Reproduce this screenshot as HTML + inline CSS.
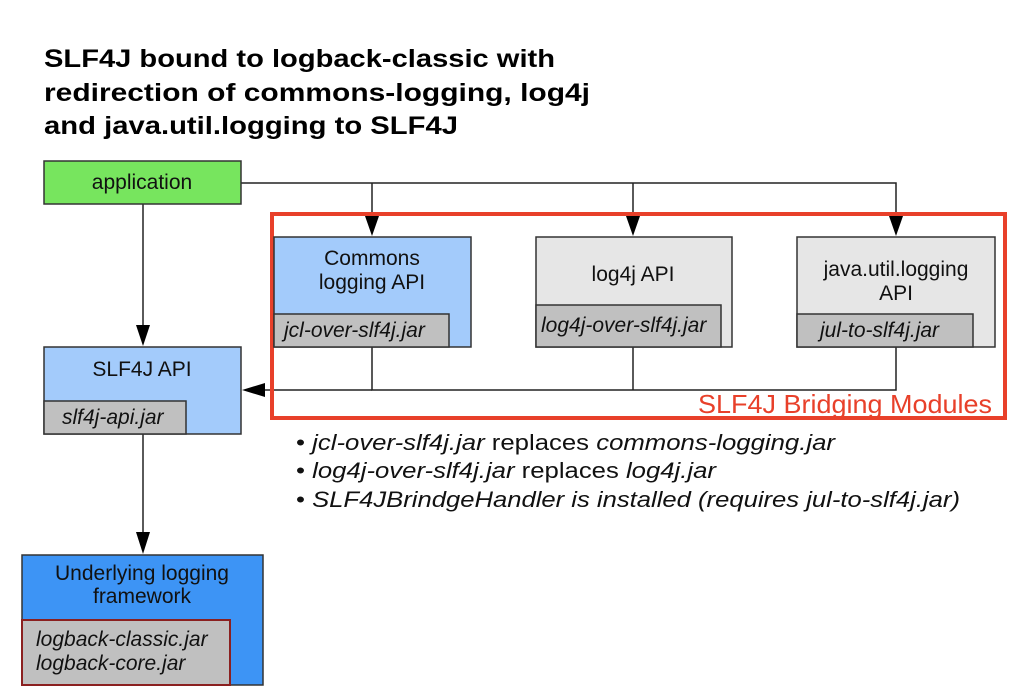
<!DOCTYPE html>
<html><head><meta charset="utf-8"><style>
html,body{margin:0;padding:0;background:#fff;}
svg{display:block;}
text{font-family:"Liberation Sans",Arial,sans-serif;}
</style></head><body>
<svg width="1017" height="696" viewBox="0 0 1017 696" xmlns="http://www.w3.org/2000/svg">
<g font-weight="bold" font-size="25" fill="#000">
<text x="44" y="67" textLength="511" lengthAdjust="spacingAndGlyphs">SLF4J bound to logback-classic with</text>
<text x="44" y="101" textLength="546" lengthAdjust="spacingAndGlyphs">redirection of commons-logging, log4j</text>
<text x="44" y="134" textLength="414" lengthAdjust="spacingAndGlyphs">and java.util.logging to SLF4J</text>
</g>
<g stroke="#222" stroke-width="1.5" fill="none">
<polyline points="241,183 896,183 896,215"/>
<line x1="372" y1="183" x2="372" y2="215"/>
<line x1="633" y1="183" x2="633" y2="215"/>
<line x1="143" y1="204" x2="143" y2="326"/>
<polyline points="372,347 372,390 896,390 896,347"/>
<line x1="633" y1="347" x2="633" y2="390"/>
<line x1="372" y1="390" x2="264" y2="390"/>
<line x1="143" y1="434" x2="143" y2="532"/>
</g>
<g fill="#000">
<polygon points="365,216 379,216 372,236"/>
<polygon points="626,216 640,216 633,236"/>
<polygon points="889,216 903,216 896,236"/>
<polygon points="136,325 150,325 143,346"/>
<polygon points="136,532 150,532 143,554"/>
<polygon points="265,383 265,397 242,390"/>
</g>
<rect x="272" y="214" width="733" height="204" fill="none" stroke="#e8402a" stroke-width="4"/>
<g stroke="#333" stroke-width="1.5">
<rect x="44" y="161" width="197" height="43" fill="#77e55e"/>
<rect x="274" y="237" width="197" height="110" fill="#a3cbfb"/>
<rect x="274" y="314" width="175" height="33" fill="#c0c0c0"/>
<rect x="536" y="237" width="196" height="110" fill="#e6e6e6"/>
<rect x="536" y="305" width="185" height="42" fill="#c0c0c0"/>
<rect x="797" y="237" width="198" height="110" fill="#e6e6e6"/>
<rect x="797" y="314" width="176" height="33" fill="#c0c0c0"/>
<rect x="44" y="347" width="197" height="87" fill="#a3cbfb"/>
<rect x="44" y="401" width="142" height="33" fill="#c0c0c0"/>
<rect x="22" y="555" width="241" height="130" fill="#3d94f5"/>
</g>
<rect x="22" y="620" width="208" height="65" fill="#c0c0c0" stroke="#8b2020" stroke-width="2"/>
<g font-size="21" fill="#111" text-anchor="middle">
<text x="142" y="189">application</text>
<text x="372" y="265">Commons</text>
<text x="372" y="289">logging API</text>
<text x="633" y="281">log4j API</text>
<text x="896" y="276">java.util.logging</text>
<text x="896" y="300">API</text>
<text x="142" y="376">SLF4J API</text>
<text x="142" y="580">Underlying logging</text>
<text x="142" y="603">framework</text>
</g>
<g font-size="21" fill="#111" font-style="italic">
<text x="284" y="337">jcl-over-slf4j.jar</text>
<text x="541" y="332">log4j-over-slf4j.jar</text>
<text x="820" y="337">jul-to-slf4j.jar</text>
<text x="62" y="424">slf4j-api.jar</text>
<text x="36" y="646">logback-classic.jar</text>
<text x="36" y="670">logback-core.jar</text>
</g>
<text x="992" y="413" text-anchor="end" font-size="26" fill="#e8402a" textLength="294" lengthAdjust="spacingAndGlyphs">SLF4J Bridging Modules</text>
<g font-size="22" fill="#111">
<text x="296" y="450" textLength="539" lengthAdjust="spacingAndGlyphs">• <tspan font-style="italic">jcl-over-slf4j.jar</tspan> replaces <tspan font-style="italic">commons-logging.jar</tspan></text>
<text x="296" y="478" textLength="420" lengthAdjust="spacingAndGlyphs">• <tspan font-style="italic">log4j-over-slf4j.jar</tspan> replaces <tspan font-style="italic">log4j.jar</tspan></text>
<text x="296" y="507" textLength="664" lengthAdjust="spacingAndGlyphs">• <tspan font-style="italic">SLF4JBrindgeHandler is installed (requires jul-to-slf4j.jar)</tspan></text>
</g>
</svg>
</body></html>
